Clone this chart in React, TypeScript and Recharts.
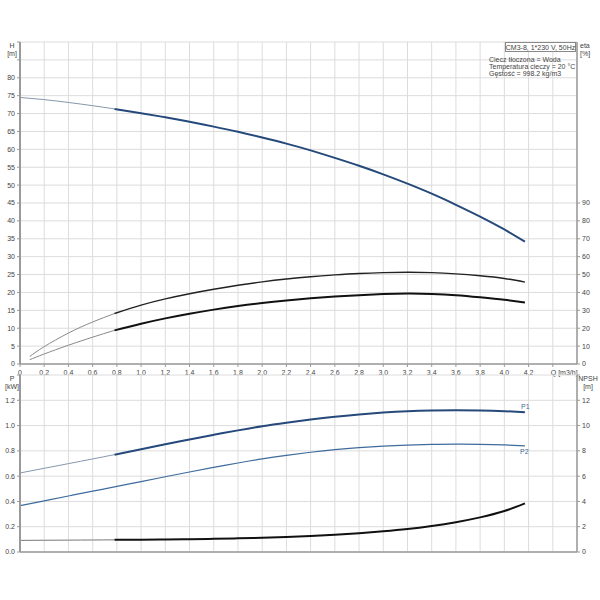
import React from 'react';
import { LineChart, Line, XAxis, YAxis, CartesianGrid } from 'recharts';

// ---- data ----
const Q_POINTS = [0, 0.2, 0.4, 0.6, 0.78, 1.0, 1.2, 1.4, 1.6, 1.8, 2.0, 2.2, 2.4, 2.6, 2.8, 3.0, 3.2, 3.4, 3.6, 3.8, 4.0, 4.17];
const Q_ETA = [0.08, 0.2, 0.4, 0.6, 0.78, 1.0, 1.2, 1.4, 1.6, 1.8, 2.0, 2.2, 2.4, 2.6, 2.8, 3.0, 3.2, 3.4, 3.6, 3.8, 4.0, 4.17];
const H_VALUES = [74.5, 73.9, 73.1, 72.2, 71.3, 70.1, 68.95, 67.7, 66.35, 64.9, 63.3, 61.6, 59.7, 57.6, 55.4, 53.0, 50.4, 47.6, 44.5, 41.2, 37.6, 34.2];
const ETA_UPPER = [4.2, 9.7, 17.3, 23.5, 28.2, 32.9, 36.4, 39.3, 41.8, 44.0, 45.9, 47.5, 48.8, 49.8, 50.6, 51.1, 51.3, 51.1, 50.4, 49.3, 47.8, 45.8];
const ETA_LOWER = [2.4, 5.6, 10.5, 15.0, 18.8, 22.5, 25.5, 28.1, 30.4, 32.4, 34.1, 35.5, 36.7, 37.7, 38.5, 39.1, 39.4, 39.2, 38.5, 37.3, 35.9, 34.4];
const P1_VALUES = [0.625, 0.662, 0.699, 0.736, 0.77, 0.813, 0.852, 0.89, 0.927, 0.962, 0.995, 1.023, 1.048, 1.07, 1.088, 1.103, 1.114, 1.12, 1.122, 1.12, 1.114, 1.106];
const P2_VALUES = [0.367, 0.405, 0.443, 0.481, 0.515, 0.557, 0.595, 0.633, 0.67, 0.704, 0.736, 0.764, 0.789, 0.81, 0.826, 0.838, 0.846, 0.851, 0.853, 0.852, 0.847, 0.84];
const NPSH_VALUES = [0.92, 0.93, 0.94, 0.95, 0.96, 0.97, 0.99, 1.01, 1.04, 1.08, 1.13, 1.19, 1.27, 1.37, 1.49, 1.64, 1.82, 2.06, 2.36, 2.74, 3.24, 3.85];

const Q_TICKS = [0, 0.2, 0.4, 0.6, 0.8, 1.0, 1.2, 1.4, 1.6, 1.8, 2.0, 2.2, 2.4, 2.6, 2.8, 3.0, 3.2, 3.4, 3.6, 3.8, 4.0, 4.2, 4.4];
const H_TICKS = [0, 5, 10, 15, 20, 25, 30, 35, 40, 45, 50, 55, 60, 65, 70, 75, 80, 85, 90];
const ETA_TICKS = [0, 10, 20, 30, 40, 50, 60, 70, 80, 90];
const P_TICKS = [0, 0.2, 0.4, 0.6, 0.8, 1.0, 1.2, 1.4];
const NPSH_TICKS = [0, 2, 4, 6, 8, 10, 12, 14];
const SPLIT_Q = 0.78;

const TITLE = 'CM3-8, 1*230 V, 50Hz';
const INFO_LINES = ['Ciecz tłoczona = Woda', 'Temperatura cieczy = 20 °C', 'Gęstość = 998.2 kg/m3'];

type Row = { q: number; v: number };
const build = (qs: number[], vs: number[]): Row[] => qs.map((q, i) => ({ q, v: vs[i] }));
const thin = (rows: Row[]) => rows.filter((r) => r.q <= SPLIT_Q);
const thick = (rows: Row[]) => rows.filter((r) => r.q >= SPLIT_Q);

const H_ROWS = build(Q_POINTS, H_VALUES);
const EU_ROWS = build(Q_ETA, ETA_UPPER);
const EL_ROWS = build(Q_ETA, ETA_LOWER);
const P1_ROWS = build(Q_POINTS, P1_VALUES);
const P2_ROWS = build(Q_POINTS, P2_VALUES);
const NPSH_ROWS = build(Q_POINTS, NPSH_VALUES);

const FONT = 'Liberation Sans, Arial, sans-serif';
const TICK_STYLE = { fontSize: 7, fill: '#444', fontFamily: FONT };
const AXIS_COLOR = '#9a9a9a';
const GRID_COLOR = '#dcdcdc';
const BLUE = '#25497a';
const BLUE2 = '#3f6b9c';
const CURVE = 'natural';

const QTick = (props: any) => {
  const { x, y, payload } = props;
  const v = payload.value;
  if (Math.abs(v - 4.4) < 1e-6) {
    return (
      <text x={x - 2} y={y + 6} textAnchor="start" style={TICK_STYLE as any} fill="#444">
        Q [m3/h]
      </text>
    );
  }
  const label = v === 0 ? '0' : v.toFixed(1).replace('.', ',');
  return (
    <text x={x} y={y + 6} textAnchor="middle" style={TICK_STYLE as any} fill="#444">
      {label}
    </text>
  );
};

export default function App() {
  return (
    <div style={{ position: 'absolute', left: 0, top: 0, width: 600, height: 600, background: '#fff' }}>
      <div style={{ position: 'absolute', left: 0, top: 0 }}>
        <LineChart width={600} height={380} margin={{ top: 42, right: 0, bottom: 0, left: 0 }}>
          <CartesianGrid yAxisId="h" stroke={GRID_COLOR} strokeWidth={1} />
          <XAxis
            dataKey="q"
            type="number"
            domain={[0, 4.6]}
            ticks={Q_TICKS}
            interval={0}
            allowDataOverflow
            height={16}
            tick={<QTick />}
            tickSize={3}
            tickLine={{ stroke: AXIS_COLOR }}
            axisLine={{ stroke: AXIS_COLOR, strokeWidth: 1.5 }}
          />
          <YAxis
            yAxisId="h"
            type="number"
            domain={[0, 90]}
            ticks={H_TICKS}
            interval={0}
            width={20}
            tickSize={3}
            tickMargin={2}
            tick={TICK_STYLE}
            tickFormatter={(v: number) => (v <= 80 ? String(v) : '')}
            tickLine={{ stroke: AXIS_COLOR }}
            axisLine={{ stroke: AXIS_COLOR, strokeWidth: 2 }}
          />
          <YAxis
            yAxisId="eta"
            orientation="right"
            type="number"
            domain={[0, 180]}
            ticks={ETA_TICKS}
            interval={0}
            width={23}
            tickSize={3}
            tickMargin={2}
            tick={TICK_STYLE}
            tickLine={{ stroke: AXIS_COLOR }}
            axisLine={{ stroke: AXIS_COLOR, strokeWidth: 1.5 }}
          />
          <Line yAxisId="h" data={thin(H_ROWS)} dataKey="v" type={CURVE} stroke="#8797ac" strokeWidth={1} dot={false} isAnimationActive={false} />
          <Line yAxisId="h" data={thick(H_ROWS)} dataKey="v" type={CURVE} stroke={BLUE} strokeWidth={2} dot={false} isAnimationActive={false} />
          <Line yAxisId="eta" data={thin(EU_ROWS)} dataKey="v" type={CURVE} stroke="#8a8a8a" strokeWidth={1} dot={false} isAnimationActive={false} />
          <Line yAxisId="eta" data={thick(EU_ROWS)} dataKey="v" type={CURVE} stroke="#222" strokeWidth={1.4} dot={false} isAnimationActive={false} />
          <Line yAxisId="eta" data={thin(EL_ROWS)} dataKey="v" type={CURVE} stroke="#8a8a8a" strokeWidth={1} dot={false} isAnimationActive={false} />
          <Line yAxisId="eta" data={thick(EL_ROWS)} dataKey="v" type={CURVE} stroke="#111" strokeWidth={2} dot={false} isAnimationActive={false} />
        </LineChart>
      </div>
      <div style={{ position: 'absolute', left: 0, top: 360 }}>
        <LineChart width={600} height={200} margin={{ top: 15, right: 0, bottom: 0, left: 0 }}>
          <CartesianGrid yAxisId="p" stroke={GRID_COLOR} strokeWidth={1} />
          <XAxis
            dataKey="q"
            type="number"
            domain={[0, 4.6]}
            ticks={Q_TICKS}
            interval={0}
            allowDataOverflow
            height={8}
            tick={{ fontSize: 1, fill: 'transparent' }}
            tickFormatter={() => ''}
            tickLine={false}
            axisLine={{ stroke: AXIS_COLOR, strokeWidth: 1.5 }}
          />
          <YAxis
            yAxisId="p"
            type="number"
            domain={[0, 1.4]}
            ticks={P_TICKS}
            interval={0}
            width={20}
            tickSize={3}
            tickMargin={2}
            tick={TICK_STYLE}
            tickFormatter={(v: number) => (v < 1.3 ? v.toFixed(1) : '')}
            tickLine={{ stroke: AXIS_COLOR }}
            axisLine={{ stroke: AXIS_COLOR, strokeWidth: 2 }}
          />
          <YAxis
            yAxisId="npsh"
            orientation="right"
            type="number"
            domain={[0, 14]}
            ticks={NPSH_TICKS}
            interval={0}
            width={23}
            tickSize={3}
            tickMargin={2}
            tick={TICK_STYLE}
            tickFormatter={(v: number) => (v <= 12 ? String(v) : '')}
            tickLine={{ stroke: AXIS_COLOR }}
            axisLine={{ stroke: AXIS_COLOR, strokeWidth: 1.5 }}
          />
          <Line yAxisId="p" data={thin(P1_ROWS)} dataKey="v" type={CURVE} stroke="#8797ac" strokeWidth={1} dot={false} isAnimationActive={false} />
          <Line yAxisId="p" data={thick(P1_ROWS)} dataKey="v" type={CURVE} stroke={BLUE} strokeWidth={2} dot={false} isAnimationActive={false} />
          <Line yAxisId="p" data={P2_ROWS} dataKey="v" type={CURVE} stroke={BLUE2} strokeWidth={1.2} dot={false} isAnimationActive={false} />
          <Line yAxisId="npsh" data={thin(NPSH_ROWS)} dataKey="v" type={CURVE} stroke="#777" strokeWidth={1} dot={false} isAnimationActive={false} />
          <Line yAxisId="npsh" data={thick(NPSH_ROWS)} dataKey="v" type={CURVE} stroke="#111" strokeWidth={2} dot={false} isAnimationActive={false} />
        </LineChart>
      </div>
      <svg width={600} height={600} style={{ position: 'absolute', left: 0, top: 0, pointerEvents: 'none' }}>
        <g style={{ fontFamily: FONT, fontSize: 7 }} fill="#444">
          <text x={12} y={48} textAnchor="middle">H</text>
          <text x={12} y={56} textAnchor="middle">[m]</text>
          <text x={580} y={48}>eta</text>
          <text x={580} y={56}>[%]</text>
          <text x={12} y={381} textAnchor="middle">P</text>
          <text x={12} y={389} textAnchor="middle">[kW]</text>
          <text x={588} y={381} textAnchor="middle">NPSH</text>
          <text x={588} y={389} textAnchor="middle">[m]</text>
        </g>
        <rect x={505.5} y={42.5} width={70} height={9} fill="#fff" stroke="#888" strokeWidth={1} />
        <text x={540.5} y={49.5} textAnchor="middle" style={{ fontFamily: FONT, fontSize: 7 }} fill="#444">{TITLE}</text>
        {INFO_LINES.map((t, i) => (
          <text key={t} x={489} y={61.5 + i * 7} style={{ fontFamily: FONT, fontSize: 7 }} fill="#444">{t}</text>
        ))}
        <text x={521} y={409} style={{ fontFamily: FONT, fontSize: 7 }} fill={BLUE2}>P1</text>
        <text x={520} y={454} style={{ fontFamily: FONT, fontSize: 7 }} fill={BLUE2}>P2</text>
      </svg>
    </div>
  );
}
